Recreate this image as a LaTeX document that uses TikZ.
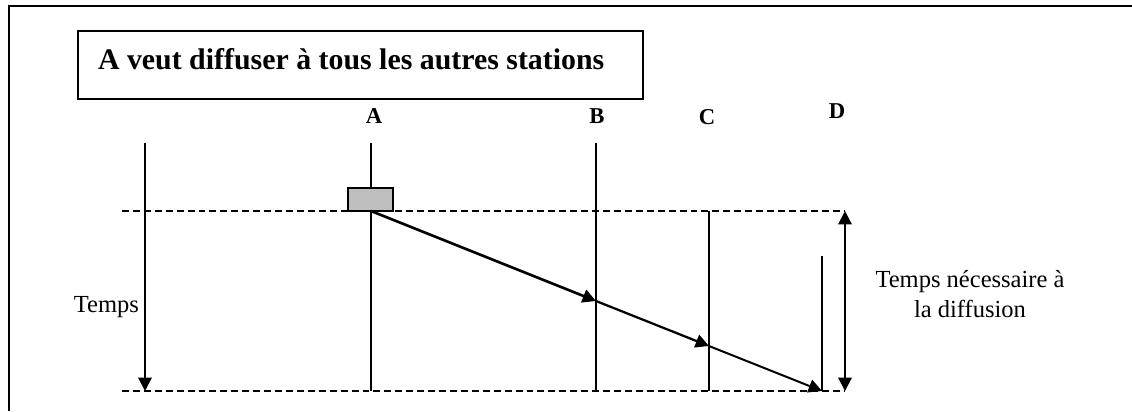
\documentclass[tikz,border=0pt]{standalone}
\usepackage{fontspec}
\setmainfont{Liberation Serif}
\usetikzlibrary{arrows.meta}

\begin{document}
\begin{tikzpicture}[x=.75pt,y=-.75pt,line width=1.5pt,
  fleche/.style={-{Triangle[length=10pt,width=10pt]}},
  pointille/.style={line width=1.1pt,dash pattern=on 5.2pt off 3pt},
  station/.style={anchor=base,inner sep=0pt,font=\fontsize{17}{20}\selectfont\bfseries}]
  \useasboundingbox (0,0) rectangle (1132,411);
  \draw (9,411)--(9,6)--(1132,6);
  % titre
  \node[draw,line width=1.3pt,minimum width=424pt,minimum height=51pt,anchor=north west] (titre) at (77,30) {};
  \node[anchor=base west,inner sep=0pt,font=\fontsize{22.4}{27}\selectfont\bfseries] (texte) at (97,69) {A veut diffuser à tous les autres stations};
  % stations
  \node[station] (lA) at (374,123) {A};
  \node[station] (lB) at (597,123) {B};
  \node[station] (lC) at (707,124) {C};
  \node[station] (lD) at (837,118) {D};
  \coordinate (t0) at (145,143);
  \coordinate (t1) at (145,391);
  \coordinate (a0) at (371,143);
  \coordinate (a) at (371,211);
  \coordinate (a1) at (371,391);
  \coordinate (b0) at (596,143);
  \coordinate (b) at (596,301);
  \coordinate (b1) at (596,391);
  \coordinate (c0) at (709,211);
  \coordinate (c) at (709,346);
  \coordinate (c1) at (709,391);
  \coordinate (d0) at (822,256);
  \coordinate (d1) at (822,391);
  \coordinate (h0) at (845,211);
  \coordinate (h1) at (845,391);
  \draw[pointille] (122,211)--(h0);
  \draw[pointille] (122,391)--(h1);
  \draw (a0)--(a1);
  \draw (b0)--(b1);
  \draw (c0)--(c1);
  \draw (d0)--(d1);
  \draw[fill=black!25,line width=1.2pt] (348,188) rectangle (393,211);
  \draw[fleche] (t0)--(t1);
  \draw[{Triangle[length=10pt,width=10pt]}-{Triangle[length=10pt,width=10pt]}] (h0)--(h1);
  \draw[fleche,line width=2pt] (a)--(b);
  \draw[fleche,line width=1.7pt] (b)--(c);
  \draw[fleche,line width=1.5pt] (c)--(d1);
  % textes
  \node[anchor=base east,inner sep=0pt,font=\fontsize{18.4}{22}\selectfont] (temps) at (140,312) {Temps};
  \node[anchor=base,inner sep=0pt,font=\fontsize{18.4}{22}\selectfont] (duree1) at (970,287) {Temps nécessaire à};
  \node[anchor=base,inner sep=0pt,font=\fontsize{18.4}{22}\selectfont] (duree2) at (970,317) {la diffusion};
\end{tikzpicture}
\end{document}
